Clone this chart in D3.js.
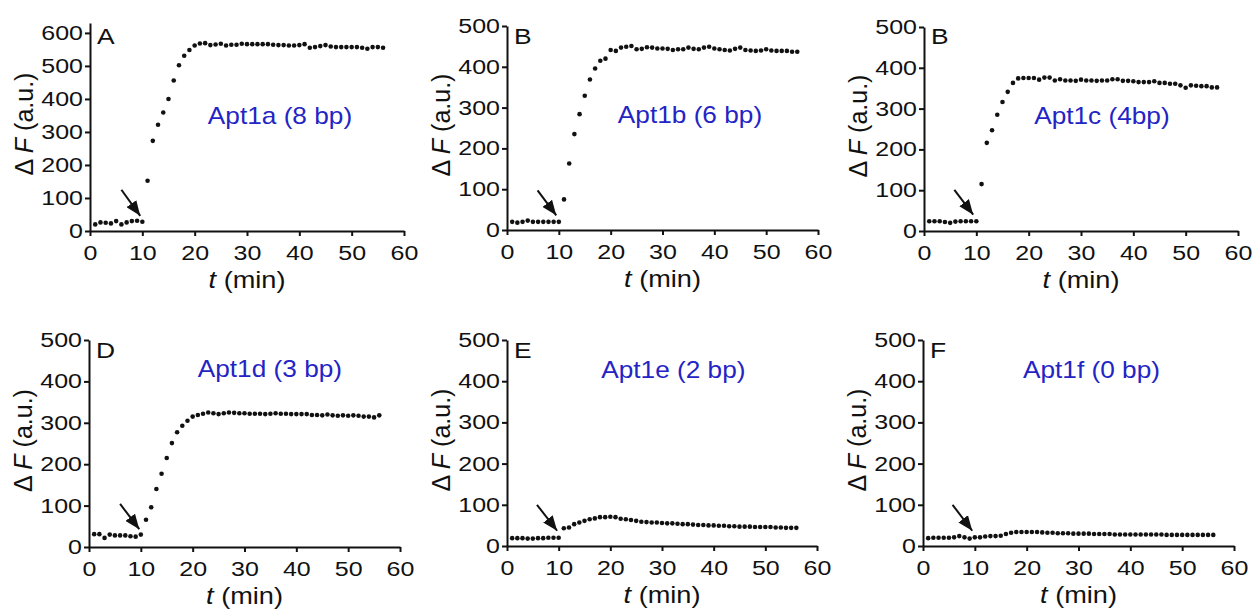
<!DOCTYPE html>
<html>
<head>
<meta charset="utf-8">
<script src="https://cdn.jsdelivr.net/npm/d3@7"></script>
<style>
  body { margin: 0; background: #fff; }
  text { font-family: "Liberation Sans", Arial, sans-serif; }
</style>
</head>
<body>
<svg id="chart" width="1254" height="614"></svg>
<script>
// time points (min)
var time = [1,2,3,4,5,6,7,8,9,10,11,12,13,14,15,16,17,18,19,20,
            21,22,23,24,25,26,27,28,29,30,31,32,33,34,35,36,37,38,39,40,
            41,42,43,44,45,46,47,48,49,50,51,52,53,54,55,56];

// delta F values
var apt1a = [20,26,25,23,30,20,26,30,31,28, 152,273,322,359,400,456,502,531,548,562,
             568,569,563,565,567,562,564,564,567,566, 566,566,566,566,564,563,563,562,562,563,
             566,555,557,560,563,559,557,557,557,557, 557,555,552,557,557,555];
var apt1b = [20,18,20,23,20,20,20,20,20,20, 75,163,235,284,329,369,396,415,420,441,
             439,447,449,451,443,444,448,447,445,445, 444,441,443,443,447,444,443,447,449,445,
             443,441,440,444,447,441,440,439,440,443, 440,439,439,439,437,437];
var apt1c = [24,24,24,22,20,23,24,24,24,24, 115,216,247,285,316,341,363,374,375,375,
             375,371,376,376,369,372,369,369,368,371, 369,369,368,369,369,372,372,368,368,367,
             365,365,365,367,363,363,361,361,357,351, 357,356,355,355,352,352];
var apt1d = [31,31,22,30,28,28,28,26,25,30, 66,96,140,177,215,251,277,293,305,315,
             319,322,325,323,321,323,325,324,323,323, 322,322,322,321,322,323,322,322,321,321,
             321,321,319,319,318,320,318,317,318,317, 318,317,315,315,313,318];
var apt1e = [19,19,19,18,18,19,19,20,20,20, 43,45,53,57,61,65,67,70,70,71,
             70,66,65,63,61,59,58,57,57,56, 55,55,54,53,53,52,51,51,50,50,
             49,49,48,48,47,47,47,46,46,46, 46,45,45,44,44,44];
var apt1f = [19,20,20,20,20,21,24,21,18,21, 21,23,24,24,25,29,32,34,34,34,
             34,34,33,32,32,31,31,31,30,30, 30,30,29,29,29,29,28,28,28,28,
             28,28,28,28,28,28,27,27,27,27, 27,27,27,27,27,27];

var series = [apt1a, apt1b, apt1c, apt1d, apt1e, apt1f];
var letters = ["A", "B", "B", "D", "E", "F"];
var names = ["Apt1a (8 bp)", "Apt1b (6 bp)", "Apt1c (4bp)", "Apt1d (3 bp)", "Apt1e (2 bp)", "Apt1f (0 bp)"];
var xTicks = [0, 10, 20, 30, 40, 50, 60];
var yTicksA = [0, 100, 200, 300, 400, 500, 600];
var yTicks = [0, 100, 200, 300, 400, 500];
var yMax = [630, 500, 500, 500, 500, 500];
// name label anchor (t, dF) and arrow (t0, dF0 -> t1, dF1) in data units
var labelPos = [[36.3, 324], [35.3, 262], [34, 262], [34.9, 410], [32.2, 407], [32.5, 408]];
var arrows = [[6.0, 125, 9.6, 46], [5.9, 97, 9.5, 36], [5.8, 101, 9.4, 40],
              [6.0, 104, 9.7, 43], [5.8, 100, 9.7, 37], [5.7, 100, 9.5, 37]];

// pixel boxes of the six plots
var boxes = [
  {l: 90,  r: 404,  b: 231, t: 23},
  {l: 507, r: 818,  b: 230, t: 26},
  {l: 924, r: 1238, b: 231, t: 27},
  {l: 89,  r: 400,  b: 547, t: 340},
  {l: 507, r: 817,  b: 546, t: 340},
  {l: 923, r: 1234, b: 546, t: 340}
];

var SX = 1.22; // the figure is stretched horizontally
var svg = d3.select("#chart");

svg.append("defs").append("marker")
  .attr("id", "head")
  .attr("markerUnits", "userSpaceOnUse")
  .attr("markerWidth", 16).attr("markerHeight", 12)
  .attr("refX", 15).attr("refY", 6)
  .attr("orient", "auto")
  .append("path")
  .attr("d", "M0,0 L15,6 L0,12 Z")
  .attr("fill", "#111");

series.forEach(function(vals, i) {
  var box = boxes[i];
  var x = d3.scaleLinear().domain([0, 60]).range([box.l, box.r]);
  var y = d3.scaleLinear().domain([0, yMax[i]]).range([box.b, box.t]);
  var g = svg.append("g");

  // x axis
  var gx = g.append("g")
    .attr("transform", "translate(0," + box.b + ")")
    .call(d3.axisBottom(x).tickValues(xTicks).tickSize(5).tickSizeOuter(0).tickPadding(9));
  // y axis
  var gy = g.append("g")
    .attr("transform", "translate(" + box.l + ",0)")
    .call(d3.axisLeft(y).tickValues(i == 0 ? yTicksA : yTicks).tickSize(5).tickSizeOuter(0).tickPadding(2));

  [gx, gy].forEach(function(ax) {
    ax.select(".domain").attr("stroke", "#111").attr("stroke-width", 2);
    ax.selectAll(".tick line").attr("stroke", "#111").attr("stroke-width", 2);
    ax.selectAll(".tick text")
      .attr("fill", "#111")
      .style("font-size", "20.5px")
      .attr("font-family", null);
  });
  gx.selectAll(".tick text").attr("transform", "scale(" + SX + ",1)");
  gy.selectAll(".tick text").attr("x", -7 / SX).attr("transform", "scale(" + SX + ",1)");

  // axis titles
  var xt = g.append("text")
    .attr("transform", "translate(" + ((box.l + box.r) / 2) + "," + (box.b + 57) + ") scale(1.18,1)")
    .attr("text-anchor", "middle")
    .style("font-size", "23px")
    .attr("fill", "#111");
  xt.append("tspan").style("font-style", "italic").text("t");
  xt.append("tspan").text(" (min)");

  var yt = g.append("text")
    .attr("transform", "translate(" + (box.l - 57) + "," + ((box.b + box.t) / 2 - 3) + ") rotate(-90)")
    .attr("text-anchor", "middle")
    .style("font-size", "25px")
    .attr("fill", "#111");
  yt.append("tspan").text("\u0394 ");
  yt.append("tspan").style("font-style", "italic").text("F");
  yt.append("tspan").text(" (a.u.)");

  // panel letter
  g.append("text")
    .attr("transform", "translate(" + (box.l + 7) + "," + (i < 3 ? 44 : 358) + ") scale(1.2,1)")
    .style("font-size", "22px")
    .attr("fill", "#111")
    .text(letters[i]);

  // construct name
  g.append("text")
    .attr("transform", "translate(" + x(labelPos[i][0]) + "," + y(labelPos[i][1]) + ") scale(1.14,1)")
    .attr("text-anchor", "middle")
    .style("font-size", "23px")
    .attr("fill", "#2424c4")
    .text(names[i]);

  // arrow at the addition point
  var a = arrows[i];
  g.append("line")
    .attr("x1", x(a[0])).attr("y1", y(a[1]))
    .attr("x2", x(a[2])).attr("y2", y(a[3]))
    .attr("stroke", "#111").attr("stroke-width", 2)
    .attr("marker-end", "url(#head)");

  // data points
  g.selectAll("circle")
    .data(vals)
    .enter().append("circle")
    .attr("cx", function(d, k) { return x(time[k]); })
    .attr("cy", function(d) { return y(d); })
    .attr("r", 2.3)
    .attr("fill", "#111");
});
</script>
</body>
</html>
